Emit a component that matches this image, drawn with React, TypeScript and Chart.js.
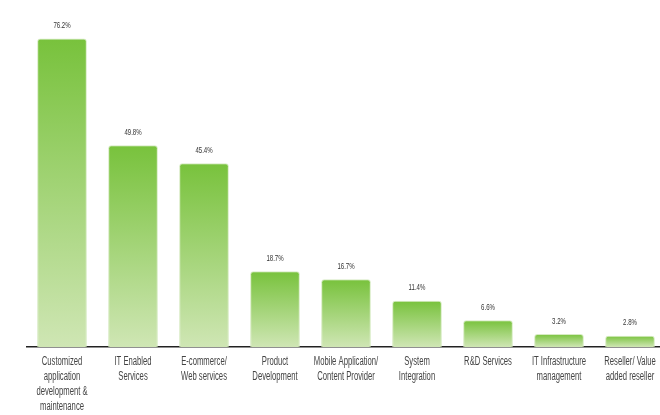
import React, { useEffect, useRef } from "react";
import { Chart, registerables } from "chart.js";

Chart.register(...registerables);

const categories: string[][] = [
  ["Customized", "application", "development &", "maintenance"],
  ["IT Enabled", "Services"],
  ["E-commerce/", "Web services"],
  ["Product", "Development"],
  ["Mobile Application/", "Content Provider"],
  ["System", "Integration"],
  ["R&D Services"],
  ["IT Infrastructure", "management"],
  ["Reseller/ Value", "added reseller"],
];

const values: number[] = [76.2, 49.8, 45.4, 18.7, 16.7, 11.4, 6.6, 3.2, 2.8];

const valueLabels: string[] = ["76.2%", "49.8%", "45.4%", "18.7%", "16.7%", "11.4%", "6.6%", "3.2%", "2.8%"];

const FONT = "'Liberation Sans', Arial, sans-serif";
const SQUEEZE = 0.64;

const labelPlugin = {
  id: "customLabels",
  afterDatasetsDraw(chart: any) {
    const ctx = chart.ctx;
    const meta = chart.getDatasetMeta(0);
    const xs = chart.scales.x;
    const bottom = chart.chartArea.bottom;
    ctx.save();
    ctx.fillStyle = "#333";
    ctx.textAlign = "center";
    ctx.textBaseline = "middle";
    ctx.font = `9.5px ${FONT}`;
    meta.data.forEach((bar: any, i: number) => {
      ctx.save();
      ctx.translate(bar.x, bar.y - 13);
      ctx.scale(SQUEEZE, 1);
      ctx.fillText(valueLabels[i], 0, 0);
      ctx.restore();
    });
    ctx.fillStyle = "#444";
    ctx.font = `12px ${FONT}`;
    categories.forEach((lines, i) => {
      const x = xs.getPixelForTick(i);
      lines.forEach((line, k) => {
        ctx.save();
        ctx.translate(x, bottom + 15 + k * 15);
        ctx.scale(SQUEEZE, 1);
        ctx.fillText(line, 0, 0);
        ctx.restore();
      });
    });
    ctx.restore();
  },
};

export default function App() {
  const ref = useRef<HTMLCanvasElement | null>(null);
  useEffect(() => {
    if (!ref.current) return;
    const chart = new Chart(ref.current, {
      type: "bar",
      data: {
        labels: categories,
        datasets: [
          {
            data: values,
            backgroundColor: (c: any) => {
              const ch = c.chart;
              const area = ch.chartArea;
              const ys = ch.scales && ch.scales.y;
              if (!area || !ys || c.dataIndex === undefined) return "#8fcf55";
              const top = ys.getPixelForValue(values[c.dataIndex]);
              const bottom = ys.getPixelForValue(0);
              const g = ch.ctx.createLinearGradient(0, top, 0, bottom);
              g.addColorStop(0, "#78c23c");
              g.addColorStop(1, "#cfe6b4");
              return g;
            },
            borderColor: "rgba(205,230,180,0.8)",
            borderWidth: 1,
            borderSkipped: "bottom",
            borderRadius: { topLeft: 3, topRight: 3, bottomLeft: 0, bottomRight: 0 },
            barPercentage: 1,
            categoryPercentage: 0.7,
          },
        ],
      },
      options: {
        responsive: false,
        animation: false,
        layout: { padding: { top: 23, left: 26.5, right: 14.5, bottom: 0 } },
        plugins: { legend: { display: false }, tooltip: { enabled: false } },
        scales: {
          y: { display: false, min: 0, max: 80 },
          x: {
            grid: { display: false },
            border: { display: true, color: "#222", width: 1.5 },
            ticks: { display: false, autoSkip: false, maxRotation: 0, minRotation: 0 },
            afterFit: (s: any) => {
              s.height = 68;
            },
          },
        },
      },
      plugins: [labelPlugin],
    });
    return () => chart.destroy();
  }, []);
  return (
    <div style={{ position: "fixed", left: 0, top: 0, width: 660, height: 415, overflow: "hidden", background: "#fff" }}>
      <canvas ref={ref} width={680} height={415} style={{ display: "block" }} />
    </div>
  );
}
